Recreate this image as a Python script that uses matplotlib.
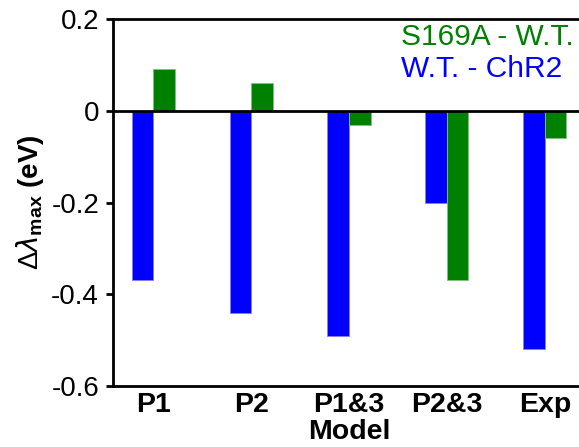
import numpy as np
import matplotlib
matplotlib.use("Agg")
import matplotlib.pyplot as plt
from matplotlib.ticker import FuncFormatter

plt.rcParams["font.family"] = ["Liberation Sans", "DejaVu Sans"]
plt.rcParams["mathtext.fontset"] = "custom"
plt.rcParams["mathtext.rm"] = "Liberation Sans"
plt.rcParams["mathtext.bf"] = "Liberation Sans:bold"

# --- data ---
MODELS = ["P1", "P2", "P1&3", "P2&3", "Exp"]
WT_MINUS_CHR2 = [-0.37, -0.44, -0.49, -0.20, -0.52]
S169A_MINUS_WT = [0.09, 0.06, -0.03, -0.37, -0.06]
Y_TICKS = [-0.6, -0.4, -0.2, 0.0, 0.2]

W, H, DPI = 579, 447, 100
fig = plt.figure(figsize=(W / DPI, H / DPI), dpi=DPI)
ax = fig.add_axes([113 / W, 1 - 386 / H, (585 - 113) / W, (386 - 19) / H])

x = np.arange(1, len(MODELS) + 1)
bw = 0.22
ax.bar(x - bw / 2, WT_MINUS_CHR2, bw, color="#0000ff", edgecolor="#8080ff",
       linewidth=0.6, zorder=2)
ax.bar(x + bw / 2, S169A_MINUS_WT, bw, color="#008000", edgecolor="#80c080",
       linewidth=0.6, zorder=2)
ax.axhline(0, color="black", linewidth=2, zorder=3)

ax.set_xlim(0.59, 5.41)
ax.set_ylim(-0.6, 0.2)
ax.set_yticks(Y_TICKS)
ax.yaxis.set_major_formatter(FuncFormatter(lambda v, _: "0" if abs(v) < 1e-9 else f"{v:.1f}"))
ax.set_xticks(x)
ax.set_xticklabels(MODELS, fontweight="bold", fontsize=20.5)
ax.tick_params(axis="x", length=0, pad=4)
ax.tick_params(axis="y", labelsize=20, width=2, length=5, direction="out", pad=5)

for side in ["left", "bottom", "top"]:
    ax.spines[side].set_linewidth(2)
ax.spines["right"].set_visible(False)

ax.set_xlabel("Model", fontweight="bold", fontsize=20.5, labelpad=1)
ax.set_ylabel(r"$\Delta\lambda_{\mathbf{max}}$ (eV)", fontweight="bold", fontsize=20, labelpad=4)

ax.text(401 / W, 1 - 37 / H, "S169A - W.T.", transform=fig.transFigure,
        color="#008000", fontsize=21.5, va="center", ha="left")
ax.text(401 / W, 1 - 69 / H, "W.T. - ChR2", transform=fig.transFigure,
        color="#0000ff", fontsize=21.5, va="center", ha="left")

fig.savefig("out.png", dpi=DPI)
